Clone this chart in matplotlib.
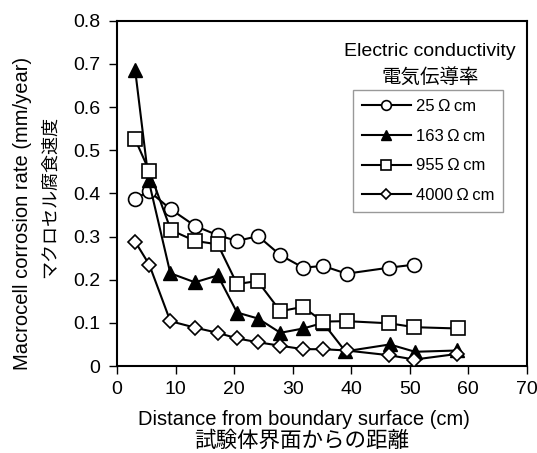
import matplotlib.pyplot as plt
from matplotlib.ticker import FuncFormatter

plt.rcParams['font.family'] = ['Liberation Sans', 'Noto Sans CJK JP']

# distances (cm) and macrocell corrosion rates (mm/year)
x_25 = [3.1, 5.5, 9.2, 13.3, 17.2, 20.5, 24.1, 27.9, 31.8, 35.2, 39.2, 46.5, 50.8]
y_25 = [0.388, 0.405, 0.363, 0.325, 0.303, 0.290, 0.301, 0.257, 0.228, 0.232, 0.214, 0.228, 0.235]

x_163 = [3.1, 5.4, 9.1, 13.3, 17.2, 20.5, 24.1, 27.9, 31.8, 35.2, 39.0, 46.6, 50.9, 58.1]
y_163 = [0.685, 0.430, 0.215, 0.194, 0.210, 0.124, 0.110, 0.077, 0.087, 0.100, 0.034, 0.050, 0.033, 0.036]

x_955 = [3.1, 5.5, 9.2, 13.3, 17.2, 20.5, 24.0, 27.9, 31.7, 35.2, 39.2, 46.5, 50.8, 58.2]
y_955 = [0.525, 0.452, 0.315, 0.290, 0.282, 0.190, 0.197, 0.127, 0.137, 0.103, 0.104, 0.099, 0.090, 0.087]

x_4000 = [3.1, 5.5, 9.1, 13.3, 17.2, 20.5, 24.1, 27.9, 31.8, 35.2, 39.2, 46.5, 50.8, 58.1]
y_4000 = [0.288, 0.235, 0.104, 0.089, 0.077, 0.064, 0.055, 0.047, 0.039, 0.039, 0.036, 0.025, 0.015, 0.028]

x_ticks = [0, 10, 20, 30, 40, 50, 60, 70]
y_ticks = [0, 0.1, 0.2, 0.3, 0.4, 0.5, 0.6, 0.7, 0.8]

fig = plt.figure(figsize=(5.37, 4.53), dpi=100)
ax = fig.add_axes([0.218, 0.192, 0.763, 0.762])

ax.plot(x_25, y_25, color='black', lw=1.5, marker='o', ms=10,
        mfc='white', mec='black', mew=1.2, label='25\u2009Ω\u2009cm')
ax.plot(x_163, y_163, color='black', lw=1.5, marker='^', ms=10,
        mfc='black', mec='black', label='163\u2009Ω\u2009cm', zorder=2)
ax.plot(x_955, y_955, color='black', lw=1.5, marker='s', ms=10,
        mfc='white', mec='black', mew=1.2, label='955\u2009Ω\u2009cm', zorder=3)
ax.plot(x_4000, y_4000, color='black', lw=1.5, marker='D', ms=7,
        mfc='white', mec='black', mew=1.2, label='4000\u2009Ω\u2009cm', zorder=4)

ax.set_xlim(0, 70)
ax.set_ylim(0, 0.8)
ax.set_xticks(x_ticks)
ax.set_yticks(y_ticks)
ax.yaxis.set_major_formatter(FuncFormatter(lambda v, p: '0' if v == 0 else f'{v:.1f}'))
ax.tick_params(direction='out', length=6, width=1, labelsize=14, pad=6)
ax.tick_params(axis='x', pad=5)
for s in ax.spines.values():
    s.set_linewidth(1.5)

fig.text(0.041, 0.528, 'Macrocell corrosion rate (mm/year)', rotation=90,
         ha='center', va='center', fontsize=14.5)
fig.text(0.093, 0.565, 'マクロセル腐食速度', rotation=90,
         ha='center', va='center', fontsize=13)
fig.text(0.566, 0.074, 'Distance from boundary surface (cm)',
         ha='center', va='center', fontsize=14.5)
fig.text(0.562, 0.026, '試験体界面からの距離',
         ha='center', va='center', fontsize=15.5)

ax.text(0.763, 0.91, 'Electric conductivity', transform=ax.transAxes,
        ha='center', va='center', fontsize=14)
ax.text(0.765, 0.837, '電気伝導率', transform=ax.transAxes,
        ha='center', va='center', fontsize=14)

leg = ax.legend(loc='upper left', bbox_to_anchor=(0.576, 0.8), fontsize=12,
                markerscale=0.7, handlelength=2.9, handletextpad=0.3,
                labelspacing=0.88, borderpad=0.55, borderaxespad=0,
                fancybox=False, framealpha=1)
leg.get_frame().set_edgecolor('#999999')
leg.get_frame().set_linewidth(1)

fig.savefig('out.png', dpi=100)
